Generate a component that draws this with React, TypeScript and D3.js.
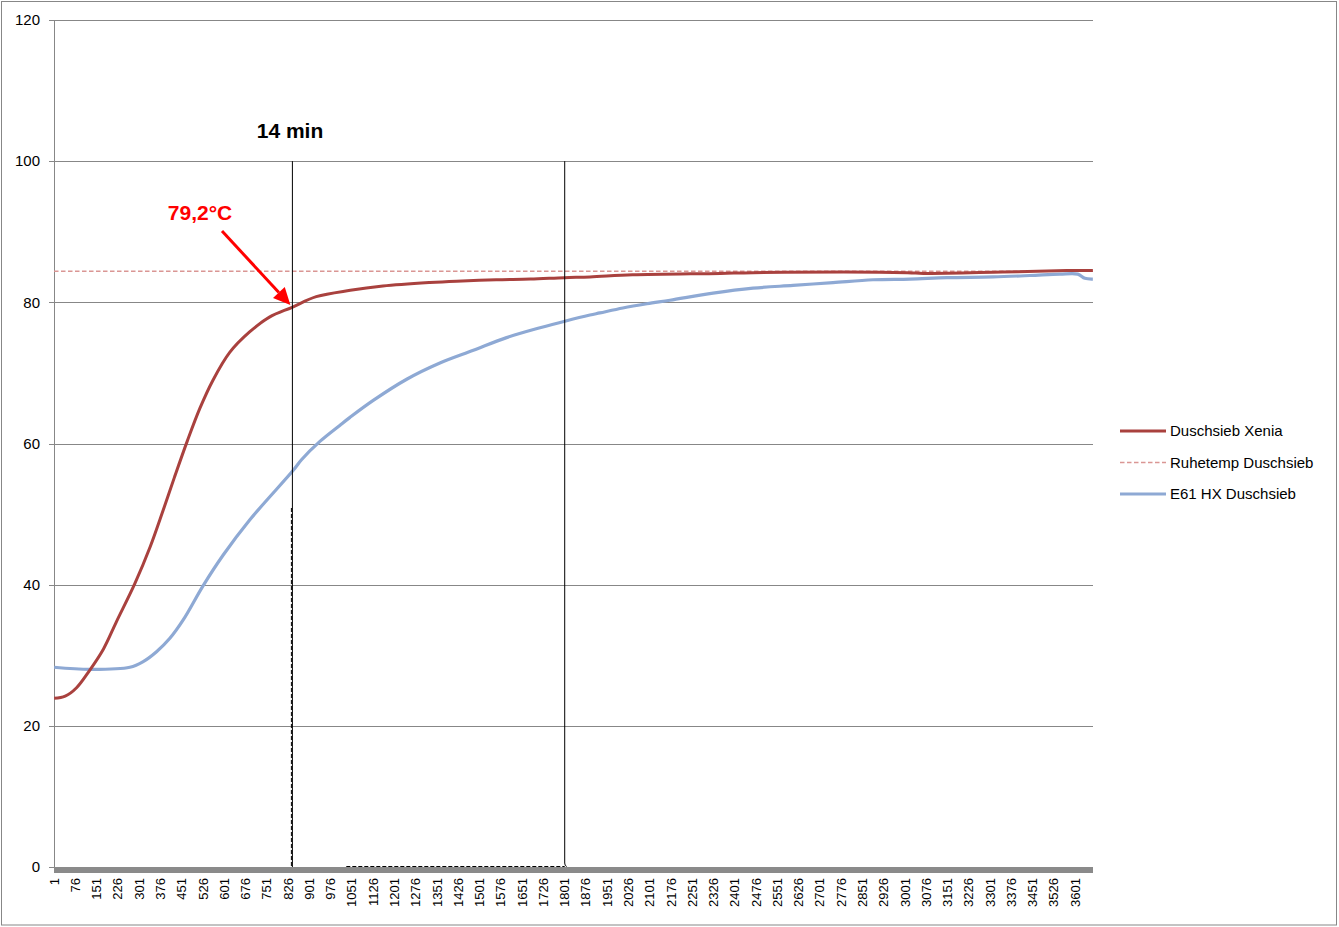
import React from "react";
import * as d3 from "d3";

// ---- data (seconds, °C) ----
const N_POINTS = 3663;
const xenTime = [1, 40, 80, 125, 175, 220, 285, 340, 385, 425, 470, 515, 560, 620, 690, 760, 840, 925, 1045, 1160, 1325, 1420, 1560, 1680, 1800, 1890, 2040, 2350, 2465, 3010, 3065, 3345, 3570, 3663];
const xenTemp = [23.9, 24.2, 25.4, 27.8, 30.9, 34.7, 40.1, 45.4, 50.5, 55.2, 60.3, 65.0, 68.9, 72.9, 75.8, 77.9, 79.3, 80.8, 81.7, 82.3, 82.8, 83.0, 83.2, 83.3, 83.5, 83.6, 83.9, 84.1, 84.2, 84.2, 84.1, 84.3, 84.5, 84.5];

const e61Time = [1, 127, 268, 315, 362, 409, 456, 527, 597, 691, 844, 873, 938, 1009, 1044, 1126, 1244, 1361, 1479, 1596, 1714, 1808, 1890, 1925, 2006, 2091, 2172, 2324, 2465, 2606, 2747, 2888, 3018, 3149, 3311, 3441, 3547, 3610, 3635, 3663];
const e61Temp = [28.3, 28.0, 28.3, 29.1, 30.5, 32.4, 35.0, 39.9, 44.2, 49.2, 56.2, 57.7, 60.3, 62.6, 63.7, 66.1, 69.1, 71.4, 73.2, 75.0, 76.4, 77.4, 78.2, 78.5, 79.2, 79.8, 80.3, 81.3, 82.0, 82.4, 82.8, 83.2, 83.3, 83.5, 83.6, 83.8, 84.0, 84.0, 83.4, 83.3];

const ruheTemp = 84.4;
const yTicks = [0, 20, 40, 60, 80, 100, 120];
const xTickLabels = d3.range(1, N_POINTS, 75);
const markerTimes = [841, 1801];
const annotValue = "79,2°C";
const annotTitle = "14 min";
const legendNames = ["Duschsieb Xenia", "Ruhetemp Duschsieb", "E61 HX Duschsieb"];

const RED = "#A9413E";
const BLUE = "#8EA9D4";
const PINK = "#DA9694";
const GRID = "#878787";
const FONT = "'Liberation Sans', Arial, sans-serif";

export default function App() {
  const left = 54, right = 1093, top = 20, bottom = 867;
  const x = d3.scaleLinear().domain([0.5, N_POINTS + 0.5]).range([left, right]);
  const y = d3.scaleLinear().domain([0, 120]).range([bottom, top]);

  const line = d3
    .line<[number, number]>()
    .x((d) => x(d[0]))
    .y((d) => y(d[1]))
    .curve(d3.curveCatmullRom.alpha(0.5));

  const xen = xenTime.map((t, i) => [t, xenTemp[i]] as [number, number]);
  const e61 = e61Time.map((t, i) => [t, e61Temp[i]] as [number, number]);

  const m14 = x(markerTimes[0]);
  const m30 = x(markerTimes[1]);

  // arrow
  const ax1 = 222, ay1 = 231;
  const ax2 = m14 - 2, ay2 = y(79.2) - 3;
  const ang = Math.atan2(ay2 - ay1, ax2 - ax1);
  const hl = 17, hw = 8;
  const bx = ax2 - hl * Math.cos(ang), by = ay2 - hl * Math.sin(ang);
  const head = `${ax2},${ay2} ${bx + hw * Math.sin(ang)},${by - hw * Math.cos(ang)} ${bx - hw * Math.sin(ang)},${by + hw * Math.cos(ang)}`;

  return (
    <svg
      width={1339}
      height={927}
      style={{ position: "absolute", left: 0, top: 0, background: "#fff" }}
      fontFamily={FONT}
    >
      <rect x={1.5} y={1.5} width={1335} height={923.5} fill="#fff" stroke={GRID} strokeWidth={1} />

      {/* gridlines + y ticks */}
      {yTicks.map((v) => (
        <g key={v}>
          <line x1={left - 5} x2={right} y1={Math.round(y(v)) + 0.5} y2={Math.round(y(v)) + 0.5} stroke={GRID} strokeWidth={1} />
          <text x={40} y={y(v)} dy="0.35em" textAnchor="end" fontSize={15} fill="#000">
            {v}
          </text>
        </g>
      ))}
      <line x1={left + 0.5} x2={left + 0.5} y1={top} y2={bottom + 5} stroke={GRID} strokeWidth={1} />

      {/* dense category tick band */}
      <rect x={left} y={bottom} width={right - left} height={6} fill="#8A8A8A" />

      {/* x labels */}
      {xTickLabels.map((c) => (
        <text
          key={c}
          transform={`translate(${x(c) + 4.5},${bottom + 11}) rotate(-90)`}
          textAnchor="end"
          fontSize={13}
          fill="#000"
        >
          {c}
        </text>
      ))}

      {/* Ruhetemp dashed */}
      <line x1={left} x2={right} y1={y(ruheTemp)} y2={y(ruheTemp)} stroke={PINK} strokeWidth={1.4} strokeDasharray="4.5,2.5" />

      {/* series */}
      <path d={line(e61) || ""} fill="none" stroke={BLUE} strokeWidth={3.2} strokeLinejoin="round" />
      <path d={line(xen) || ""} fill="none" stroke={RED} strokeWidth={3} strokeLinejoin="round" />

      {/* marker lines */}
      <line x1={m14} x2={m14} y1={y(100)} y2={bottom} stroke="#000" strokeWidth={1} />
      <line x1={m14 - 1} x2={m14 - 1} y1={508} y2={bottom} stroke="#000" strokeWidth={1} strokeDasharray="4,2" />
      <line x1={m30} x2={m30} y1={y(100)} y2={bottom - 4} stroke="#000" strokeWidth={1} />
      <path d={`M${m30},${bottom - 4} Q${m30},${bottom - 1} ${m30 + 2},${bottom - 0.5}`} fill="none" stroke="#000" strokeWidth={1} />
      <line x1={x(1031)} x2={m30} y1={bottom - 0.5} y2={bottom - 0.5} stroke="#000" strokeWidth={1} strokeDasharray="4,2" />

      {/* annotations */}
      <text x={290} y={138} textAnchor="middle" fontSize={21} fontWeight="bold" fill="#000">
        {annotTitle}
      </text>
      <text x={200} y={220} textAnchor="middle" fontSize={21} fontWeight="bold" fill="#FF0000">
        {annotValue}
      </text>
      <line x1={ax1} y1={ay1} x2={bx} y2={by} stroke="#FF0000" strokeWidth={3} />
      <polygon points={head} fill="#FF0000" />

      {/* legend */}
      {legendNames.map((name, i) => {
        const ly = 431 + i * 31.5;
        const col = i === 0 ? RED : i === 1 ? PINK : BLUE;
        return (
          <g key={name}>
            <line
              x1={1120}
              x2={1166}
              y1={ly}
              y2={ly}
              stroke={col}
              strokeWidth={i === 1 ? 1.4 : 3}
              strokeDasharray={i === 1 ? "4.5,2.5" : undefined}
            />
            <text x={1170} y={ly} dy="0.35em" fontSize={15} fill="#000">
              {name}
            </text>
          </g>
        );
      })}
    </svg>
  );
}
